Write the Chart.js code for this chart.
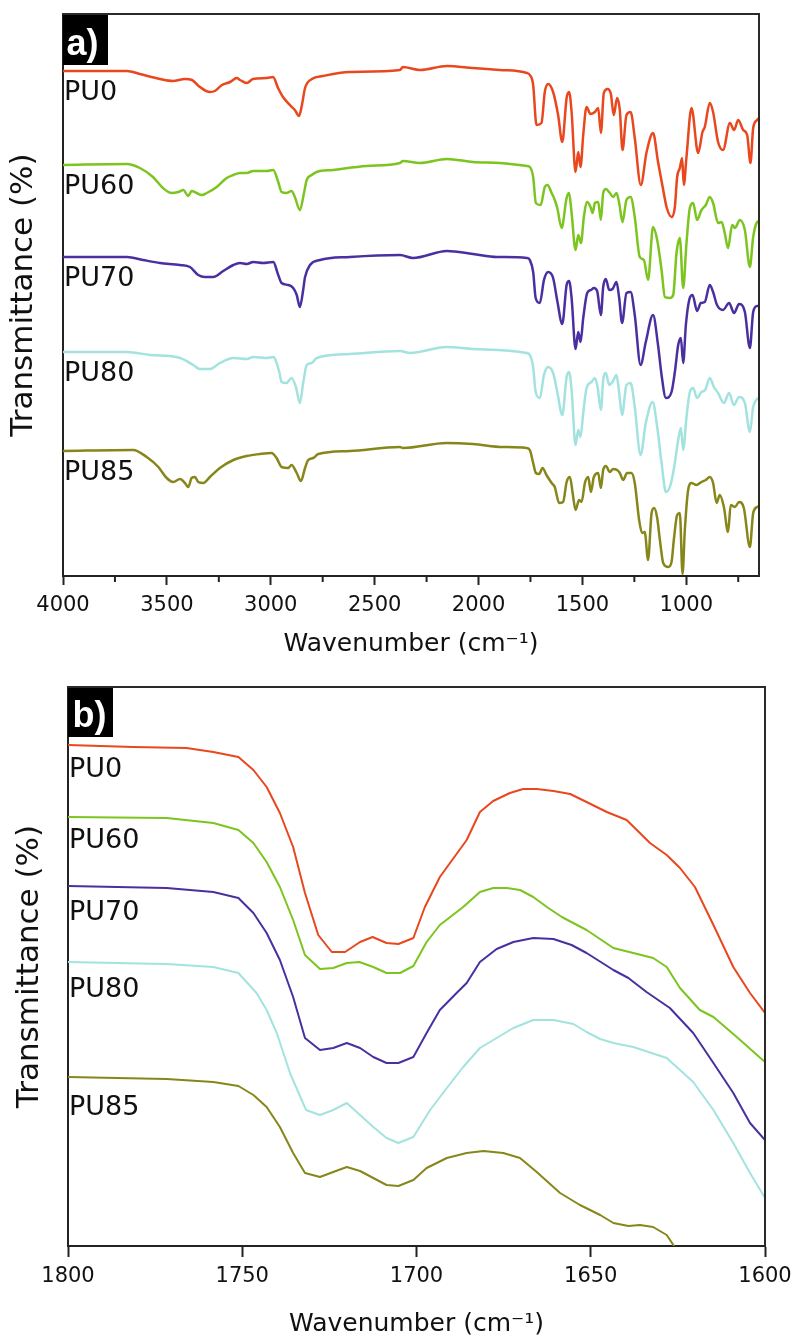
<!DOCTYPE html>
<html>
<head>
<meta charset="utf-8">
<script src="https://cdn.jsdelivr.net/npm/chart.js@4.4.1/dist/chart.umd.min.js"></script>
<style>
  html, body { margin: 0; padding: 0; background: #ffffff; }
  #wrap { position: relative; width: 794px; height: 1340px; }
  canvas { position: absolute; left: 0; }
  #cA { top: 0; }
  #cB { top: 670px; }
</style>
</head>
<body>
<div id="wrap">
  <canvas id="cA" width="794" height="670"></canvas>
  <canvas id="cB" width="794" height="670"></canvas>
</div>
<script>
// ---------------- DATA ----------------
const SERIES_NAMES = ['PU0', 'PU60', 'PU70', 'PU80', 'PU85'];
const SERIES_COLORS = ['#E9471E', '#7CC41F', '#4A2FA0', '#A3E3DF', '#86861A'];

// Panel a: full spectra, [wavenumber (cm-1), transmittance (offset, a.u.)]
const PU0_A = [[4000,505],[3692,505],[3630,502],[3533,497],[3471,495],[3413,497],[3379,496],[3341,489],[3293,484],[3269,485],[3235,491],[3196,494],[3163,498],[3148,496],[3115,493],[3086,497],[3018,498],[2989,499],[2965,488],[2941,479],[2908,471],[2884,466],[2864,460],[2850,471],[2835,488],[2802,497],[2749,500],[2619,504],[2378,506],[2364,509],[2282,506],[2152,510],[2027,508],[1897,506],[1767,503],[1753,501],[1737,491],[1721,451],[1697,453],[1681,484],[1665,492],[1641,484],[1617,461],[1597,434],[1576,478],[1564,484],[1552,464],[1533,404],[1520,424],[1509,409],[1496,441],[1480,469],[1461,462],[1440,464],[1424,468],[1411,443],[1397,483],[1379,487],[1363,482],[1349,461],[1333,478],[1320,466],[1307,426],[1288,461],[1268,464],[1248,438],[1219,391],[1191,424],[1160,443],[1136,414],[1111,386],[1095,369],[1071,359],[1055,369],[1044,399],[1031,408],[1020,418],[1012,391],[999,419],[975,468],[943,423],[922,444],[911,449],[887,473],[871,464],[847,434],[823,426],[790,453],[770,446],[750,456],[726,446],[707,441],[691,413],[678,448],[659,456],[650,458]];
const PU60_A = [[4000,411],[3692,412],[3630,408],[3567,399],[3519,388],[3477,383],[3445,384],[3421,386],[3397,380],[3381,385],[3357,383],[3333,381],[3308,383],[3260,389],[3212,398],[3180,401],[3148,403],[3116,403],[3084,405],[3020,405],[2988,406],[2964,394],[2948,384],[2924,383],[2900,385],[2884,379],[2860,366],[2840,383],[2827,396],[2803,401],[2779,404],[2701,406],[2539,410],[2378,413],[2364,415],[2282,413],[2152,417],[2027,414],[1897,413],[1767,410],[1753,409],[1737,399],[1724,373],[1701,371],[1681,389],[1668,391],[1648,383],[1633,376],[1621,368],[1600,348],[1576,378],[1564,383],[1552,363],[1533,326],[1520,341],[1507,333],[1493,359],[1477,374],[1461,369],[1451,363],[1440,373],[1424,374],[1411,356],[1400,383],[1387,387],[1368,383],[1352,379],[1336,383],[1323,373],[1307,354],[1288,376],[1268,379],[1248,359],[1224,319],[1204,316],[1184,296],[1160,349],[1140,336],[1119,306],[1103,279],[1079,278],[1063,281],[1047,323],[1031,338],[1015,288],[999,333],[983,368],[967,373],[948,356],[927,366],[906,371],[887,379],[871,373],[847,353],[830,354],[815,343],[799,328],[779,351],[766,348],[742,356],[718,346],[694,309],[678,339],[659,354],[650,355]];
const PU70_A = [[4000,319],[3692,319],[3615,316],[3533,313],[3437,311],[3389,309],[3349,301],[3317,299],[3277,299],[3229,305],[3180,311],[3148,313],[3116,312],[3084,314],[3036,313],[2988,314],[2964,301],[2948,293],[2916,291],[2892,288],[2875,281],[2860,269],[2844,286],[2835,299],[2811,311],[2763,316],[2619,319],[2378,321],[2316,318],[2152,325],[2027,322],[1912,319],[1767,318],[1753,316],[1737,304],[1725,278],[1705,273],[1685,296],[1665,304],[1641,298],[1620,274],[1597,252],[1576,291],[1564,295],[1552,278],[1533,227],[1520,244],[1509,234],[1496,258],[1477,283],[1459,286],[1445,288],[1429,285],[1411,261],[1400,289],[1387,297],[1371,286],[1355,287],[1336,294],[1323,278],[1309,253],[1288,283],[1268,284],[1248,261],[1220,211],[1195,234],[1160,261],[1136,231],[1119,201],[1098,178],[1071,184],[1055,204],[1039,231],[1026,238],[1015,213],[1002,251],[986,276],[970,281],[948,265],[930,273],[911,274],[887,291],[871,284],[852,271],[823,266],[794,273],[770,263],[746,272],[718,264],[694,228],[678,264],[659,270],[650,270]];
const PU80_A = [[4000,224],[3692,224],[3581,221],[3437,218],[3373,211],[3341,207],[3293,207],[3245,213],[3180,218],[3116,217],[3084,219],[3020,218],[2988,219],[2959,204],[2948,194],[2924,193],[2900,198],[2879,189],[2860,173],[2844,193],[2827,211],[2803,213],[2779,218],[2619,222],[2378,225],[2330,223],[2154,229],[2027,227],[1769,223],[1753,221],[1737,209],[1725,184],[1705,178],[1685,201],[1665,209],[1641,203],[1620,183],[1597,161],[1576,199],[1564,204],[1552,186],[1533,131],[1520,146],[1509,139],[1496,163],[1480,188],[1456,194],[1440,198],[1427,189],[1411,166],[1400,196],[1387,203],[1371,191],[1355,194],[1336,201],[1323,183],[1309,161],[1288,191],[1268,193],[1248,169],[1220,121],[1195,153],[1162,174],[1140,149],[1119,113],[1098,84],[1076,91],[1055,113],[1039,136],[1026,148],[1015,126],[999,159],[983,184],[967,188],[948,178],[927,184],[909,186],[887,198],[867,189],[847,183],[819,173],[794,183],[771,171],[746,179],[718,173],[694,144],[678,169],[659,177],[650,178]];
const PU85_A = [[4000,125],[3662,126],[3597,119],[3541,109],[3501,98],[3469,94],[3437,97],[3413,93],[3397,89],[3381,98],[3365,99],[3349,94],[3325,93],[3293,99],[3245,108],[3180,116],[3116,120],[3052,122],[2996,123],[2972,118],[2948,109],[2916,108],[2900,111],[2875,103],[2855,95],[2835,108],[2820,116],[2796,118],[2771,122],[2619,125],[2378,129],[2364,128],[2154,133],[2027,132],[1883,129],[1769,128],[1753,126],[1737,113],[1724,103],[1708,102],[1692,108],[1673,101],[1648,93],[1633,89],[1612,73],[1593,74],[1576,94],[1560,99],[1547,83],[1533,66],[1516,76],[1504,74],[1488,93],[1472,99],[1459,84],[1445,99],[1424,103],[1411,88],[1400,106],[1387,110],[1368,104],[1352,107],[1333,106],[1320,103],[1304,96],[1285,103],[1264,103],[1248,93],[1227,56],[1213,43],[1200,44],[1184,16],[1167,63],[1155,68],[1140,58],[1127,36],[1111,13],[1087,9],[1071,14],[1060,36],[1044,61],[1031,63],[1018,2],[1007,46],[991,86],[975,93],[951,91],[927,94],[906,96],[887,99],[871,93],[854,73],[839,81],[819,69],[799,44],[786,71],[766,69],[746,74],[723,68],[694,29],[678,63],[659,69],[650,70]];

// Panel b: carbonyl region, [wavenumber (cm-1), transmittance (offset, a.u.)]
const PU0_B = [[1800,501],[1781.3,499],[1766,498],[1758.3,494],[1751.1,489],[1746.8,476],[1743,459],[1739.2,433],[1735.4,399],[1732,353],[1728.2,311],[1724.3,294],[1720.5,294],[1716.2,304],[1712.6,309],[1708.6,303],[1705.2,302],[1700.9,308],[1697.6,339],[1693.3,369],[1685.6,406],[1681.8,434],[1678,445],[1673.2,453],[1669.4,457],[1665.5,457],[1660.7,455],[1655.9,452],[1651.2,444],[1645.4,434],[1639.7,426],[1633,403],[1628.2,391],[1624.4,378],[1620.1,359],[1614.8,321],[1609.1,279],[1604.3,253],[1600,233]];
const PU60_B = [[1800,429],[1771.7,428],[1758.3,423],[1751.1,416],[1746.8,403],[1743,384],[1739.2,359],[1735.4,326],[1732,291],[1727.7,277],[1723.9,278],[1720,283],[1716.4,284],[1712.4,279],[1708.6,273],[1704.7,273],[1700.9,280],[1697.1,304],[1693.3,321],[1686.6,339],[1681.8,354],[1678,358],[1674.1,358],[1670.3,356],[1666.5,349],[1662.6,339],[1658.3,329],[1651.2,316],[1643.5,298],[1637.8,293],[1632.1,288],[1628.2,279],[1624.4,258],[1618.7,236],[1614.8,229],[1608.1,209],[1600,184]];
const PU70_B = [[1800,360],[1771.7,358],[1758.3,354],[1751.1,348],[1746.8,333],[1743,313],[1739.2,286],[1735.4,249],[1732,208],[1727.7,196],[1723.9,198],[1720,203],[1716.2,198],[1712.4,189],[1708.6,183],[1705.2,183],[1700.9,189],[1697.1,213],[1693.3,236],[1688.5,253],[1685.6,263],[1681.8,284],[1677,297],[1672.2,304],[1666.5,308],[1660.7,307],[1655.5,301],[1651.2,293],[1643.5,276],[1639.2,268],[1634,254],[1627.3,238],[1620.6,213],[1614.8,183],[1609.1,153],[1604.3,123],[1600,106]];
const PU80_B = [[1800,284],[1771.7,282],[1758.3,279],[1751.1,273],[1745.9,253],[1743,236],[1740.1,213],[1736.3,173],[1731.7,136],[1727.7,131],[1723.9,136],[1720,143],[1716.2,131],[1712.4,119],[1708.6,108],[1705.2,103],[1700.9,109],[1696.1,136],[1691.3,158],[1686.6,179],[1681.8,198],[1677,208],[1672.2,218],[1666.5,226],[1660.7,226],[1655,222],[1651.2,214],[1647.3,207],[1643.5,203],[1637.8,199],[1628.2,188],[1620.6,164],[1614.8,136],[1609.1,103],[1604.3,73],[1600,48]];
const PU85_B = [[1800,169],[1771.7,167],[1758.3,164],[1751.1,160],[1746.8,151],[1743,139],[1739.2,119],[1735.4,93],[1732,73],[1727.7,69],[1723.9,74],[1720,79],[1716.2,75],[1712.4,68],[1708.6,61],[1705.2,60],[1700.9,66],[1697.1,78],[1691.3,88],[1685.6,93],[1680.8,95],[1675.1,93],[1670.3,88],[1665.5,74],[1658.8,53],[1653.1,41],[1647.3,31],[1643.5,23],[1639.2,20],[1635.9,21],[1632.1,19],[1628.2,11],[1626.1,0],[1624.5,-10]];

// Axis ticks
const TICKS_A = [1000, 1500, 2000, 2500, 3000, 3500, 4000];
const MINOR_TICKS_A = [750, 1250, 1750, 2250, 2750, 3250, 3750];
const TICKS_B = [1600, 1650, 1700, 1750, 1800];

const X_TITLE = 'Wavenumber (cm\u207B\u00B9)';
const Y_TITLE = 'Transmittance (%)';
const PANEL_TAGS = ['a)', 'b)'];

// ---------------- RENDERING ----------------
Chart.defaults.font.family = "'DejaVu Sans', 'Liberation Sans', sans-serif";
Chart.defaults.color = '#111';

const framePlugin = {
  id: 'frame',
  afterDraw(chart, args, opts) {
    const {ctx, chartArea: a, scales} = chart;
    ctx.save();
    ctx.strokeStyle = '#2a2a2a';
    ctx.lineWidth = 2;
    ctx.beginPath();
    ctx.moveTo(a.left - 1, a.top);
    ctx.lineTo(a.right, a.top);
    ctx.lineTo(a.right, a.bottom);
    ctx.stroke();
    // minor ticks
    if (opts.minor) {
      ctx.lineWidth = 2;
      ctx.strokeStyle = '#222';
      opts.minor.forEach(v => {
        const x = scales.x.getPixelForValue(v);
        ctx.beginPath();
        ctx.moveTo(x, a.bottom);
        ctx.lineTo(x, a.bottom + opts.minorLen);
        ctx.stroke();
      });
    }
    // panel tag box
    ctx.fillStyle = '#000';
    ctx.fillRect(a.left, a.top + 1, 45, opts.tagH);
    ctx.fillStyle = '#fff';
    ctx.font = "bold 36px 'Liberation Sans', Arial, sans-serif";
    ctx.textBaseline = 'alphabetic';
    ctx.textAlign = 'left';
    ctx.fillText(opts.tag, a.left + opts.tagDx, a.top + opts.tagBase);
    // series labels
    ctx.fillStyle = '#111';
    ctx.font = "27px 'DejaVu Sans', sans-serif";
    chart.data.datasets.forEach((ds, i) => {
      const y0 = scales.y.getPixelForValue(ds.data[0].y);
      ctx.fillText(ds.label, a.left + 1, y0 + opts.labelOffsets[i]);
    });
    ctx.restore();
  }
};

function makeDatasets(arrs, width, mono) {
  return arrs.map((arr, i) => ({
    label: SERIES_NAMES[i],
    data: arr.map(p => ({x: p[0], y: p[1]})),
    borderColor: SERIES_COLORS[i],
    backgroundColor: SERIES_COLORS[i],
    borderWidth: width,
    pointRadius: 0,
    fill: false,
    tension: 0,
    cubicInterpolationMode: mono ? 'monotone' : 'default',
    borderJoinStyle: 'round',
    borderCapStyle: 'round'
  }));
}

function makeChart(id, cfg) {
  return new Chart(document.getElementById(id), {
    type: 'line',
    data: {datasets: makeDatasets(cfg.series, cfg.lineWidth, cfg.mono)},
    options: {
      responsive: false,
      animation: false,
      events: [],
      layout: {padding: cfg.padding},
      plugins: {
        legend: {display: false},
        tooltip: {enabled: false},
        frame: cfg.frame
      },
      scales: {
        x: {
          type: 'linear',
          reverse: true,
          min: cfg.xMin,
          max: cfg.xMax,
          afterBuildTicks: s => { s.ticks = cfg.ticks.map(v => ({value: v})); },
          afterFit: s => { s.height = cfg.xHeight; },
          ticks: {
            autoSkip: false, maxRotation: 0, minRotation: 0,
            padding: cfg.tickPad,
            color: '#111',
            font: {size: 21},
            callback: v => String(v)
          },
          grid: {
            display: true, drawOnChartArea: false, drawTicks: true,
            tickLength: cfg.tickLen, tickWidth: 2, tickColor: '#222'
          },
          border: {display: true, color: '#222', width: 2},
          title: {
            display: true, text: X_TITLE, color: '#111',
            font: {size: 25}, padding: {top: 0, bottom: cfg.xTitlePad}
          }
        },
        y: {
          type: 'linear',
          min: 0,
          max: cfg.yMax,
          afterFit: s => { s.width = cfg.yWidth; },
          ticks: {display: false},
          grid: {display: false, drawTicks: false},
          border: {display: true, color: '#222', width: 2},
          title: {
            display: true, text: Y_TITLE, color: '#111',
            font: {size: 31}, padding: {top: cfg.yTitlePad, bottom: 0}
          }
        }
      }
    },
    plugins: [framePlugin]
  });
}

makeChart('cA', {
  series: [PU0_A, PU60_A, PU70_A, PU80_A, PU85_A],
  lineWidth: 2.5, mono: true,
  padding: {top: 14, right: 35, left: 0, bottom: 0},
  xMin: 650, xMax: 4000, ticks: TICKS_A, yMax: 562,
  xHeight: 94, yWidth: 63, tickPad: 8, tickLen: 9, xTitlePad: 11, yTitlePad: 5,
  frame: {minor: MINOR_TICKS_A, minorLen: 6, tag: PANEL_TAGS[0], tagH: 50, tagDx: 3.5, tagBase: 41,
          labelOffsets: [29, 29, 29, 29, 29]}
});

makeChart('cB', {
  series: [PU0_B, PU60_B, PU70_B, PU80_B, PU85_B],
  lineWidth: 2, mono: false,
  padding: {top: 17, right: 29, left: 0, bottom: 0},
  xMin: 1600, xMax: 1800, ticks: TICKS_B, yMax: 559,
  xHeight: 94, yWidth: 68, tickPad: 7, tickLen: 11, xTitlePad: 1, yTitlePad: 11,
  frame: {minor: null, minorLen: 0, tag: PANEL_TAGS[1], tagH: 49, tagDx: 4.5, tagBase: 40,
          labelOffsets: [32, 31, 34, 35, 38]}
});
</script>
</body>
</html>
